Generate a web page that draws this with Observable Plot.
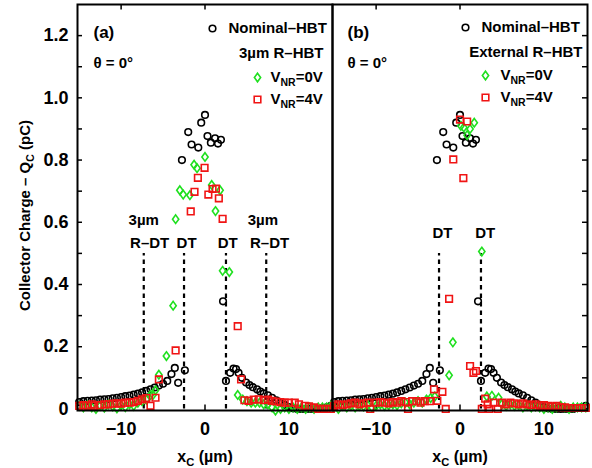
<!DOCTYPE html>
<html>
<head>
<meta charset="utf-8">
<script src="https://cdn.jsdelivr.net/npm/d3@7"></script>
<script src="https://cdn.jsdelivr.net/npm/@observablehq/plot@0.6"></script>
<style>
  html, body { margin: 0; padding: 0; background: #fff; }
  #chart { width: 592px; height: 468px; }
</style>
</head>
<body>
<div id="chart"></div>
<script>
// ---- data: [x_C (µm), Q_C (pC)] ----
const nominal = [
  [-15,0.022],[-14.5,0.025],[-14,0.026],[-13.5,0.027],[-13,0.028],[-12.5,0.03],[-12,0.031],[-11.5,0.032],
  [-11,0.034],[-10.5,0.036],[-10,0.038],[-9.5,0.041],[-9,0.043],[-8.5,0.046],[-8,0.049],[-7.5,0.053],
  [-7,0.058],[-6.5,0.063],[-6,0.069],[-5.5,0.075],[-5,0.081],[-4.5,0.09],[-4,0.112],[-3.6,0.132],
  [-3.2,0.084],[-2.4,0.124],[-2.75,0.80],[-2.0,0.89],[-1.6,0.85],[-0.8,0.84],[-0.45,0.92],[0,0.945],
  [0.3,0.877],[0.7,0.856],[1.2,0.87],[1.55,0.853],[1.9,0.865],[2.15,0.346],[2.5,0.09],[3.0,0.116],
  [3.4,0.13],[3.7,0.128],[4.0,0.116],[4.4,0.1],[4.9,0.085],[5.3,0.077],[5.7,0.07],[6.2,0.063],
  [6.6,0.056],[7.0,0.05],[7.5,0.044],[8.0,0.036],[8.5,0.028],[9.0,0.02],[9.5,0.013],[10,0.006],
  [10.5,0.002],[11,0],[11.5,0],[12,0],[12.5,0],[13,0],[13.5,0],[14,0.003],[14.5,0.005],[15,0.01]
];
// panel (a): 3µm R-HBT
const aVnr0 = [
  [-15,0.01],[-14.5,0.005],[-14,0.012],[-13.5,0.005],[-13,0],[-12.5,0.01],[-12,0.004],[-11.5,0.015],
  [-11,0.008],[-10.5,0.002],[-10,0.012],[-9.5,0.006],[-9,0.015],[-8.5,0.01],[-8,0.02],[-7.5,0.025],
  [-7,0.03],[-6.5,0.045],[-6.2,0.045],[-5.9,0.06],[-5.5,0.11],[-4.6,0.17],[-3.8,0.332],[-3.5,0.61],
  [-3.0,0.703],[-2.6,0.689],[-1.8,0.687],[-1.3,0.785],[-0.95,0.774],[0,0.81],[0.8,0.72],[1.25,0.636],
  [1.8,0.703],[2.1,0.444],[2.9,0.44],[3.9,0.045],[4.5,0.03],[5,0.025],[5.5,0.02],[6,0.02],[6.5,0.02],
  [7,0.015],[7.5,0.015],[8,0.005],[8.4,-0.005],[9,0],[9.5,0.005],[10,0],[10.5,0.005],[11,0],[11.5,0.005],
  [12,0],[12.5,0.005],[13,0],[13.5,0.005],[14,0.005],[14.5,0.005],[15,0.01]
];
const aVnr4 = [
  [-15,0.01],[-14.5,0.012],[-14,0.01],[-13.5,0.015],[-13.2,0.01],[-12.5,0.012],[-12,0.015],[-11.5,0.015],
  [-11,0.017],[-10.5,0.018],[-10,0.017],[-9.5,0.02],[-9,0.02],[-8.5,0.022],[-8,0.026],[-7.5,0.031],
  [-7,0.035],[-6.5,0.01],[-5.9,0.036],[-5.5,0.095],[-3.5,0.188],[-1.7,0.635],[-1.25,0.698],[-0.85,0.743],
  [-0.05,0.775],[0.4,0.689],[0.9,0.707],[1.3,0.708],[1.65,0.677],[2.1,0.611],[3.9,0.266],[4.3,0.095],
  [4.7,0.028],[5.2,0.026],[5.8,0.03],[6.4,0.031],[7,0.028],[7.5,0.03],[8,0.026],[8.5,0.024],[9,0.022],
  [9.5,0.02],[10,0.02],[10.7,0.02],[11.2,0.015],[11.9,0.01],[12.4,0.008],[13,0.005],[13.5,0],[14,0],
  [14.5,0],[15,0]
];
// panel (b): External R-HBT
const bVnr0 = [
  [-15,0.005],[-14.5,0],[-14,0.01],[-13.5,0.005],[-13,0.01],[-12.5,0.005],[-12,0.01],[-11.5,0.008],
  [-11,0.012],[-10.5,0.005],[-10,0.01],[-9.5,0.015],[-9,0.01],[-8.5,0.012],[-8,0.015],[-7.5,0.012],
  [-7,0.018],[-6.5,0.02],[-6,0.015],[-5.5,0.02],[-5,0.025],[-4.5,0.02],[-4,0.03],[-3.5,0.035],[-3,0.04],
  [-1.3,0.108],[-0.85,0.214],[0.1,0.91],[0.45,0.905],[0.85,0.88],[1.2,0.90],[1.7,0.92],[2.6,0.506],
  [3.2,0.04],[3.8,0.042],[4.6,0.036],[5,0.015],[5.5,0.01],[6,0.015],[6.5,0.01],[7,0.012],[7.5,0.005],
  [8,0.01],[8.5,0.005],[9,0.008],[9.5,0.005],[10,0],[10.5,0.005],[11,0],[11.5,0.005],[12,0.01],
  [12.5,0.005],[13,0],[13.5,0.005],[14,0.005],[14.5,0.005],[15,0.005]
];
const bVnr4 = [
  [-15,0.01],[-14.5,0.015],[-14,0.012],[-13.5,0.015],[-13,0.018],[-12.5,0.02],[-12,0.015],[-11.5,0.018],
  [-11,0.02],[-10.7,0],[-10,0.02],[-9.5,0.022],[-9,0.02],[-8.5,0.018],[-8,0.022],[-7.5,0.02],[-7,0.025],
  [-6.5,0.022],[-6.2,0],[-5.7,0.025],[-5.2,0.025],[-4.7,0.02],[-4.2,0.025],[-3.6,0.025],[-3.1,0.063],
  [-2.7,0.026],[-2.1,0.055],[-1.7,0],[-1.3,0.354],[-0.8,0.802],[0,0.93],[0.4,0.742],[0.85,0.924],
  [1.2,0.138],[1.6,0.116],[1.9,0.122],[2.6,0],[3.0,0.033],[3.3,0.015],[3.5,0],[4,0.02],[4.5,0],[5,0.02],
  [5.5,0.015],[6,0.02],[6.5,0.018],[7,0.015],[7.5,0.018],[8,0.015],[8.5,0.012],[9,0.015],[9.5,0.01],
  [10,0.012],[10.5,0.01],[11,0.008],[11.5,0.01],[12,0.005],[12.5,0.005],[13,0.003],[13.5,0.003],
  [14,0.003],[14.5,0.003],[15,0.003]
];
// trench (DT / R-DT) positions, µm
const trenchA = [-7.3, -2.5, 2.5, 7.3];
const trenchB = [-2.5, 2.5];
const trenchTop = 0.5;
// axis domains, tick values / labels
const xDomain = [-15.2, 15.2];
const yDomain = [-0.005, 1.3];
const yTicks = [0, 0.2, 0.4, 0.6, 0.8, 1.0, 1.2];
const yMinor = [0.1,0.2,0.3,0.4,0.5,0.6,0.7,0.8,0.9,1.0,1.1,1.2];
const xTicks = [-10, 0, 10];
const xTopTicks = [-10, 0];
const panels = ["a", "b"];
// annotation texts (data coordinates)
const annotations = [
  {panel:"a", x:-7.3, y:0.608, text:"3µm"},
  {panel:"a", x:-6.6, y:0.534, text:"R–DT"},
  {panel:"a", x:-2.2, y:0.534, text:"DT"},
  {panel:"a", x:2.7,  y:0.534, text:"DT"},
  {panel:"a", x:6.9,  y:0.608, text:"3µm"},
  {panel:"a", x:7.7,  y:0.534, text:"R–DT"},
  {panel:"b", x:-2.1, y:0.566, text:"DT"},
  {panel:"b", x:3.0,  y:0.566, text:"DT"}
];

// ---- build tables ----
const tag = (arr, panel) => arr.map(([x, q]) => ({panel, x, q}));
const nomRows = [...tag(nominal, "a"), ...tag(nominal, "b")];
const v0Rows = [...tag(aVnr0, "a"), ...tag(bVnr0, "b")];
const v4Rows = [...tag(aVnr4, "a"), ...tag(bVnr4, "b")];
const trenchRows = [...trenchA.map(x => ({panel:"a", x, y1:0, y2:trenchTop})),
                    ...trenchB.map(x => ({panel:"b", x, y1:0, y2:trenchTop}))];
// inward tick marks expressed as short rules (≈5 px) inside each frame
const tx = (xDomain[1] - xDomain[0]) * 5 / 255;
const ty = (yDomain[1] - yDomain[0]) * 5.5 / 405;
const leftTicks = yMinor.map(y => ({panel:"a", y, x1:xDomain[0], x2:xDomain[0] + tx}));
const rightTicks = yMinor.map(y => ({panel:"b", y, x1:xDomain[1] - tx, x2:xDomain[1]}));
const bottomTicks = xTicks.map(x => ({x, y1:yDomain[0], y2:yDomain[0] + ty}));
const topTicks = xTopTicks.map(x => ({x, y1:yDomain[1] - ty, y2:yDomain[1]}));

// ---- custom symbols ----
const circleSym = {draw(c, size) { const r = Math.sqrt(size / Math.PI); c.moveTo(r, 0); c.arc(0, 0, r, 0, 2 * Math.PI); }};
const diamondSym = {draw(c, size) { const r = Math.sqrt(size / Math.PI);
  c.moveTo(0, -r * 1.3); c.lineTo(r * 0.95, 0); c.lineTo(0, r * 1.3); c.lineTo(-r * 0.95, 0); c.closePath(); }};
const squareSym = {draw(c, size) { const r = Math.sqrt(size / Math.PI); c.rect(-r, -r, 2 * r, 2 * r); }};

const GREEN = "#1fe01f", RED = "#f01414";
const font = "'Liberation Sans', Arial, Helvetica, sans-serif";

function note(panel, text, dx, dy, o = {}) {
  return Plot.text([{panel, text}], {fx: "panel", text: "text", frameAnchor: "top-left", dx, dy,
    textAnchor: "start", lineAnchor: "middle", fontSize: 15, fontWeight: "bold", fill: "black", ...o});
}
function sym(panel, symbol, color, dx, dy) {
  return Plot.dot([{panel}], {fx: "panel", frameAnchor: "top-left", dx, dy, symbol, r: 3.3,
    stroke: color, strokeWidth: 1.6, fill: "none"});
}

const plot = Plot.plot({
  width: 592,
  height: 468,
  marginLeft: 77,
  marginRight: 5,
  marginTop: 4,
  marginBottom: 58,
  style: {fontFamily: font, background: "#fff", color: "black", overflow: "visible"},
  fx: {domain: panels, padding: 0, axis: null},
  x: {domain: xDomain},
  y: {domain: yDomain},
  marks: [
    // tick marks (inward)
    Plot.ruleY(leftTicks, {fx: "panel", y: "y", x1: "x1", x2: "x2", stroke: "black", strokeWidth: 1.5}),
    Plot.ruleY(rightTicks, {fx: "panel", y: "y", x1: "x1", x2: "x2", stroke: "black", strokeWidth: 1.5}),
    Plot.ruleX(bottomTicks, {x: "x", y1: "y1", y2: "y2", stroke: "black", strokeWidth: 1.5}),
    Plot.ruleX(topTicks, {x: "x", y1: "y1", y2: "y2", stroke: "black", strokeWidth: 1.5}),
    // axes labels
    Plot.axisY({ticks: yTicks, tickSize: 0, tickPadding: 9, fontSize: 18, fontWeight: "bold",
      tickFormat: d => d === 0 ? "0" : d.toFixed(1), label: null}),
    Plot.axisX({ticks: xTicks, tickSize: 0, tickPadding: 12, fontSize: 18, fontWeight: "bold",
      tickFormat: d => d < 0 ? "−" + (-d) : String(d), label: null}),
    Plot.text(["x_{C} (µm)"], {text: d => d, frameAnchor: "bottom", dy: 46, lineAnchor: "middle",
      textAnchor: "middle", fontSize: 16, fontWeight: "bold"}),
    Plot.text([{panel: "a", text: "Collector Charge – Q_{C} (pC)"}], {fx: "panel", text: "text",
      frameAnchor: "left", dx: -52, dy: 8, rotate: -90, textAnchor: "middle", lineAnchor: "middle",
      fontSize: 15, fontWeight: "bold"}),
    // trench lines
    Plot.ruleX(trenchRows, {fx: "panel", x: "x", y1: "y1", y2: "y2", stroke: "black", strokeWidth: 2.2, strokeDasharray: "4.5,4"}),
    Plot.text(annotations, {fx: "panel", x: "x", y: "y", text: "text", fontSize: 15, fontWeight: "bold"}),
    // data
    Plot.dot(nomRows, {fx: "panel", x: "x", y: "q", symbol: circleSym, r: 3.3, stroke: "black", strokeWidth: 1.6, fill: "none"}),
    Plot.dot(v0Rows, {fx: "panel", x: "x", y: "q", symbol: diamondSym, r: 3.3, stroke: GREEN, strokeWidth: 1.6, fill: "none"}),
    Plot.dot(v4Rows, {fx: "panel", x: "x", y: "q", symbol: squareSym, r: 3.3, stroke: RED, strokeWidth: 1.6, fill: "none"}),
    // panel labels & legends
    note("a", "(a)", 16, 28, {fontSize: 17}),
    note("a", "θ = 0°", 16, 59, {fontSize: 15}),
    sym("a", circleSym, "black", 135, 24),
    note("a", "Nominal–HBT", 151, 24),
    note("a", "3µm R–HBT", 246, 49, {textAnchor: "end"}),
    sym("a", diamondSym, GREEN, 180, 73),
    note("a", "V_{NR}=0V", 193, 73),
    sym("a", squareSym, RED, 180, 95),
    note("a", "V_{NR}=4V", 193, 95),
    note("b", "(b)", 15, 28, {fontSize: 17}),
    note("b", "θ = 0°", 15, 59, {fontSize: 15}),
    sym("b", circleSym, "black", 133, 23),
    note("b", "Nominal–HBT", 149, 23),
    note("b", "External R–HBT", 250, 48, {textAnchor: "end"}),
    sym("b", diamondSym, GREEN, 153, 71),
    note("b", "V_{NR}=0V", 168, 71),
    sym("b", squareSym, RED, 153, 93),
    note("b", "V_{NR}=4V", 168, 93),
    Plot.frame({stroke: "black", strokeWidth: 2})
  ]
});

// turn "_{...}" into subscripts
const NS = "http://www.w3.org/2000/svg";
plot.querySelectorAll("text").forEach(t => {
  const s = t.textContent;
  if (!s.includes("_{")) return;
  t.textContent = "";
  const re = /_\{([^}]*)\}/g;
  let last = 0, m, shifted = false;
  const add = (str, sub) => {
    const ts = document.createElementNS(NS, "tspan");
    ts.textContent = str;
    if (sub) { ts.setAttribute("font-size", "70%"); ts.setAttribute("dy", "0.38em"); }
    else if (shifted) { ts.setAttribute("dy", "-0.266em"); }
    t.appendChild(ts);
    shifted = sub;
  };
  while ((m = re.exec(s))) {
    if (m.index > last) add(s.slice(last, m.index), false);
    add(m[1], true);
    last = re.lastIndex;
  }
  if (last < s.length) add(s.slice(last), false);
});

document.getElementById("chart").appendChild(plot);
</script>
</body>
</html>
